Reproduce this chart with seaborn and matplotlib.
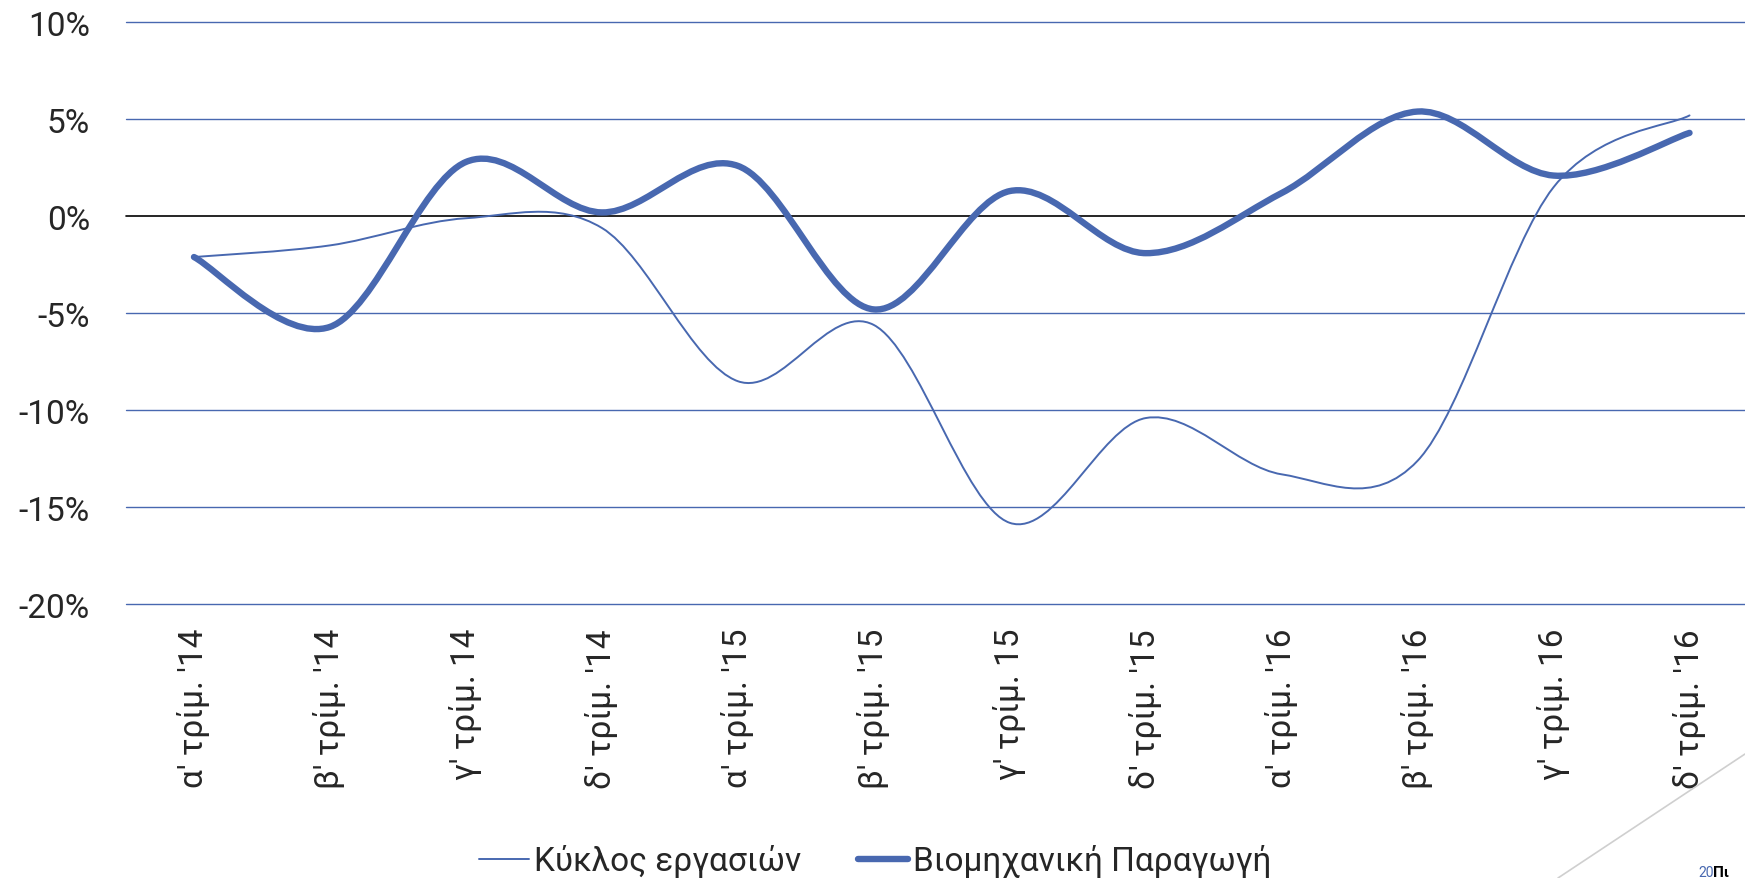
import numpy as np
import pandas as pd
import matplotlib
matplotlib.use("Agg")
import matplotlib.pyplot as plt
import seaborn as sns
from matplotlib.path import Path
from matplotlib.patches import PathPatch
from matplotlib.lines import Line2D

quarters = ["α' τρίμ. '14", "β' τρίμ. '14", "γ' τρίμ. 14", "δ' τρίμ. '14",
            "α' τρίμ. '15", "β' τρίμ. '15", "γ' τρίμ. 15", "δ' τρίμ. '15",
            "α' τρίμ. '16", "β' τρίμ. '16", "γ' τρίμ. 16", "δ' τρίμ. '16"]
turnover = [-2.1, -1.5, -0.1, -0.6, -8.5, -5.6, -15.8, -10.4, -13.3, -12.6, 1.5, 5.2]
industrial = [-2.1, -5.7, 2.8, 0.2, 2.6, -4.8, 1.3, -1.9, 1.2, 5.4, 2.1, 4.3]
series_names = ["Κύκλος εργασιών", "Βιομηχανική Παραγωγή"]
y_ticks = [-20, -15, -10, -5, 0, 5, 10]

BLUE = "#4868B0"
W, H = 1745, 879


def smooth_path(xy):
    # bezier segments through the points, like excel's "smoothed line"
    pts = np.vstack([xy[0], xy, xy[-1]])
    verts = [xy[0]]
    codes = [Path.MOVETO]
    for i in range(1, len(pts) - 2):
        p0, p1, p2, p3 = pts[i - 1], pts[i], pts[i + 1], pts[i + 2]
        verts += [p1 + (p2 - p0) / 6, p2 - (p3 - p1) / 6, p2]
        codes += [Path.CURVE4] * 3
    return Path(verts, codes)


sns.set_style("white")
plt.rcParams["font.family"] = ["Roboto", "DejaVu Sans"]

df = pd.DataFrame({"quarter": quarters, "turnover": turnover, "industrial": industrial})

fig = plt.figure(figsize=(W / 100, H / 100), dpi=100)
ax = fig.add_axes([126 / W, 1 - 605.3 / H, (1757.5 - 126) / W, (605.3 - 23.3) / H])

widths = [1.4, 4.6]
for col, lw in zip(["turnover", "industrial"], widths):
    sns.lineplot(data=df, x="quarter", y=col, sort=False, ax=ax, color=BLUE, linewidth=lw)

# swap the straight polylines for smooth curves
for line, lw in zip(list(ax.lines), widths):
    xy = np.asarray(line.get_xydata(), dtype=float)
    patch = PathPatch(smooth_path(xy), facecolor="none", edgecolor=BLUE, linewidth=lw,
                      capstyle="round", joinstyle="round", zorder=4)
    ax.add_patch(patch)
    line.set_visible(False)

ax.set_xlim(-0.5, len(quarters) - 0.5)
ax.set_ylim(-20, 10)
ax.set_yticks(y_ticks)
ax.set_yticklabels([f"{v}%" for v in y_ticks])
ax.set_xticks(range(len(quarters)))
ax.set_xticklabels(quarters, rotation=90, va="top")
ax.set_xlabel("")
ax.set_ylabel("")

for v in y_ticks:
    if v == 0:
        ax.axhline(v, color="black", linewidth=1.2, zorder=3, clip_on=False)
    else:
        ax.axhline(v, color=BLUE, linewidth=1.0, zorder=1, clip_on=False)

for s in ax.spines.values():
    s.set_visible(False)
ax.tick_params(axis="y", length=0, pad=26, labelsize=24)
ax.tick_params(axis="x", length=0, pad=17, labelsize=24)

handles = [Line2D([], [], color=BLUE, linewidth=lw) for lw in widths]
fig.legend(handles, series_names, loc="center", bbox_to_anchor=(875 / W, 1 - 862 / H),
           ncol=2, frameon=False, fontsize=24, handlelength=1.5,
           handletextpad=0.15, columnspacing=1.7)

# slide decoration in the bottom right corner
fig.add_artist(Line2D([1558 / W, 1.0], [0.0, 1 - 755 / H], transform=fig.transFigure,
                      color="#cfcfcf", linewidth=1.2))
fig.text(1698 / W, 1 - 873 / H, "20", color=BLUE, fontsize=10, va="center")
fig.text(1713 / W, 1 - 873 / H, "Πι", color="black", fontsize=11, fontweight="bold", va="center")

fig.savefig("out.png", dpi=100)
